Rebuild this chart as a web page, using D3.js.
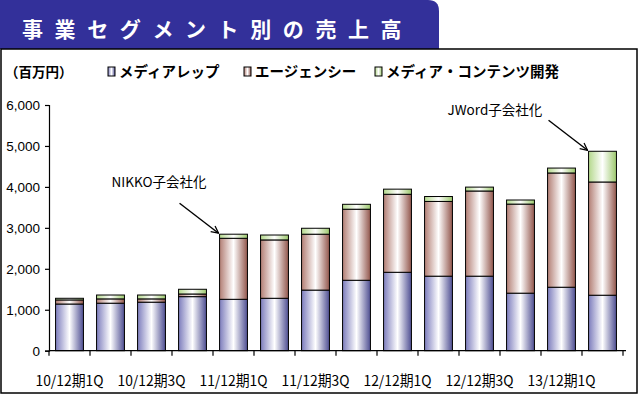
<!DOCTYPE html>
<html><head><meta charset="utf-8">
<script src="https://cdn.jsdelivr.net/npm/d3@7"></script>
<style>body{margin:0;background:#fff}svg{display:block}</style>
</head><body>
<script>
const categories = ["10/12期1Q","10/12期2Q","10/12期3Q","10/12期4Q","11/12期1Q","11/12期2Q","11/12期3Q","11/12期4Q","12/12期1Q","12/12期2Q","12/12期3Q","12/12期4Q","13/12期1Q","13/12期2Q"];
const tickLabels = ["10/12期1Q","10/12期3Q","11/12期1Q","11/12期3Q","12/12期1Q","12/12期3Q","13/12期1Q"];
const seriesNames = ["メディアレップ","エージェンシー","メディア・コンテンツ開発"];
const mediaRep = [1140,1160,1185,1320,1255,1280,1480,1720,1915,1820,1820,1405,1550,1355];
const agency   = [100,105,80,65,1490,1425,1365,1735,1905,1825,2080,2175,2790,2765];
const content  = [40,95,95,115,100,120,145,120,125,120,95,100,120,750];
const yTicks = [0,1000,2000,3000,4000,5000,6000];
const title = "事業セグメント別の売上高";
const unitLabel = "（百万円）";
const noteTexts = ["NIKKO子会社化","JWord子会社化"];
const noteBars = [4,13];

const W=639,H=395;
const noteTextOffset=[[-68,-16],[-101,-5]];
const svg=d3.select("body").append("svg").attr("width",W).attr("height",H);
const defs=svg.append("defs");
const grads=[["g0","#7c7cbc","#ffffff","#4e4e92"],["g1","#b27e74","#ffffff","#92564c"],["g2","#b4d88c","#ffffff","#9cc86c"]];
grads.forEach(([id,a,b,c])=>{
  const g=defs.append("linearGradient").attr("id",id).attr("x1","0").attr("x2","1").attr("y1","0").attr("y2","0");
  g.append("stop").attr("offset","0%").attr("stop-color",a);
  g.append("stop").attr("offset","50%").attr("stop-color",b);
  g.append("stop").attr("offset","100%").attr("stop-color",c);
});
const mk=defs.append("marker").attr("id","arr").attr("viewBox","0 0 10 10").attr("refX",9).attr("refY",5)
  .attr("markerWidth",9).attr("markerHeight",9).attr("orient","auto").attr("markerUnits","userSpaceOnUse");
mk.append("path").attr("d","M1,1 L9,5 L1,9").attr("fill","none").attr("stroke","#000").attr("stroke-width",1.4);

// title tab
svg.append("path").attr("d","M0,0 H428 Q439,0 439,11 V49 H0 Z").attr("fill","#33309a");
svg.append("text").attr("x",22).attr("y",37).attr("fill","#fff").attr("font-family","Noto Sans CJK JP")
  .attr("font-weight","bold").attr("font-size",21).attr("letter-spacing",11.6).text(title);
// frame
svg.append("rect").attr("x",1).attr("y",49).attr("width",636).attr("height",344).attr("fill","#fff").attr("stroke","#000").attr("stroke-width",1.5);

const x=d3.scaleBand().domain(d3.range(categories.length)).range([49,623]).paddingInner(0.32).paddingOuter(0.16);
const y=d3.scaleLinear().domain([0,6000]).range([350.7,105]);

const data=categories.map((c,i)=>({i,mediaRep:mediaRep[i],agency:agency[i],content:content[i]}));
const stack=d3.stack().keys(["mediaRep","agency","content"])(data);
const g=svg.append("g");
stack.forEach((s,k)=>{
  g.selectAll(null).data(s).join("rect")
   .attr("x",d=>x(d.data.i)).attr("width",x.bandwidth())
   .attr("y",d=>y(d[1])).attr("height",d=>y(d[0])-y(d[1]))
   .attr("fill",`url(#g${k})`).attr("stroke","#000").attr("stroke-width",1);
});

// y axis
const ya=svg.append("g").attr("transform","translate(49,0)")
  .call(d3.axisLeft(y).tickValues(yTicks).tickFormat(d3.format(",")).tickSize(4).tickPadding(5));
ya.select(".domain").attr("stroke","#000").attr("stroke-width",1.2);
ya.selectAll(".tick line").attr("stroke","#000").attr("stroke-width",1.2);
ya.selectAll("text").attr("font-family","Liberation Sans, Arial").attr("font-size",13.5).attr("fill","#000");

// x axis
const step=x.step();
const x0=49;
svg.append("line").attr("x1",x0).attr("x2",x0+step*categories.length+3).attr("y1",y(0)).attr("y2",y(0)).attr("stroke","#000").attr("stroke-width",1.2);
svg.selectAll(null).data(d3.range(categories.length+1)).join("line")
  .attr("x1",d=>x0+d*step).attr("x2",d=>x0+d*step).attr("y1",y(0)).attr("y2",y(0)+5).attr("stroke","#000").attr("stroke-width",1.2);
svg.selectAll(null).data(tickLabels).join("text")
  .attr("x",d=>x(categories.indexOf(d))+x.bandwidth()/2).attr("y",386)
  .attr("text-anchor","middle").attr("font-family","Noto Sans CJK JP").attr("font-size",14.5).attr("fill","#000")
  .attr("textLength",68).attr("lengthAdjust","spacingAndGlyphs").text(d=>d);

// legend
svg.append("text").attr("x",5).attr("y",77).attr("font-family","Noto Sans CJK JP").attr("font-weight","bold").attr("font-size",13.5).text(unitLabel);
const legX=[108,244,375];
seriesNames.forEach((n,k)=>{
  svg.append("rect").attr("x",legX[k]).attr("y",67).attr("width",7).attr("height",9).attr("fill",`url(#g${k})`).attr("stroke","#000").attr("stroke-width",1);
  svg.append("text").attr("x",legX[k]+11).attr("y",77).attr("font-family","Noto Sans CJK JP").attr("font-weight","bold").attr("font-size",14.5).text(n);
});

// annotations
noteTexts.forEach((t,j)=>{
  const idx=noteBars[j];
  const cx=x(idx), top=y(mediaRep[idx]+agency[idx]+content[idx]);
  const ex=cx-1, ey=top-1;
  const sx=ex-39, sy=ey-30;
  svg.append("line").attr("x1",sx).attr("y1",sy).attr("x2",ex).attr("y2",ey).attr("stroke","#000").attr("stroke-width",1.4).attr("marker-end","url(#arr)");
  svg.append("text").attr("x",sx+noteTextOffset[j][0]).attr("y",sy+noteTextOffset[j][1]).attr("font-family","Noto Sans CJK JP").attr("font-size",13.5).text(t);
});
</script>
</body></html>
